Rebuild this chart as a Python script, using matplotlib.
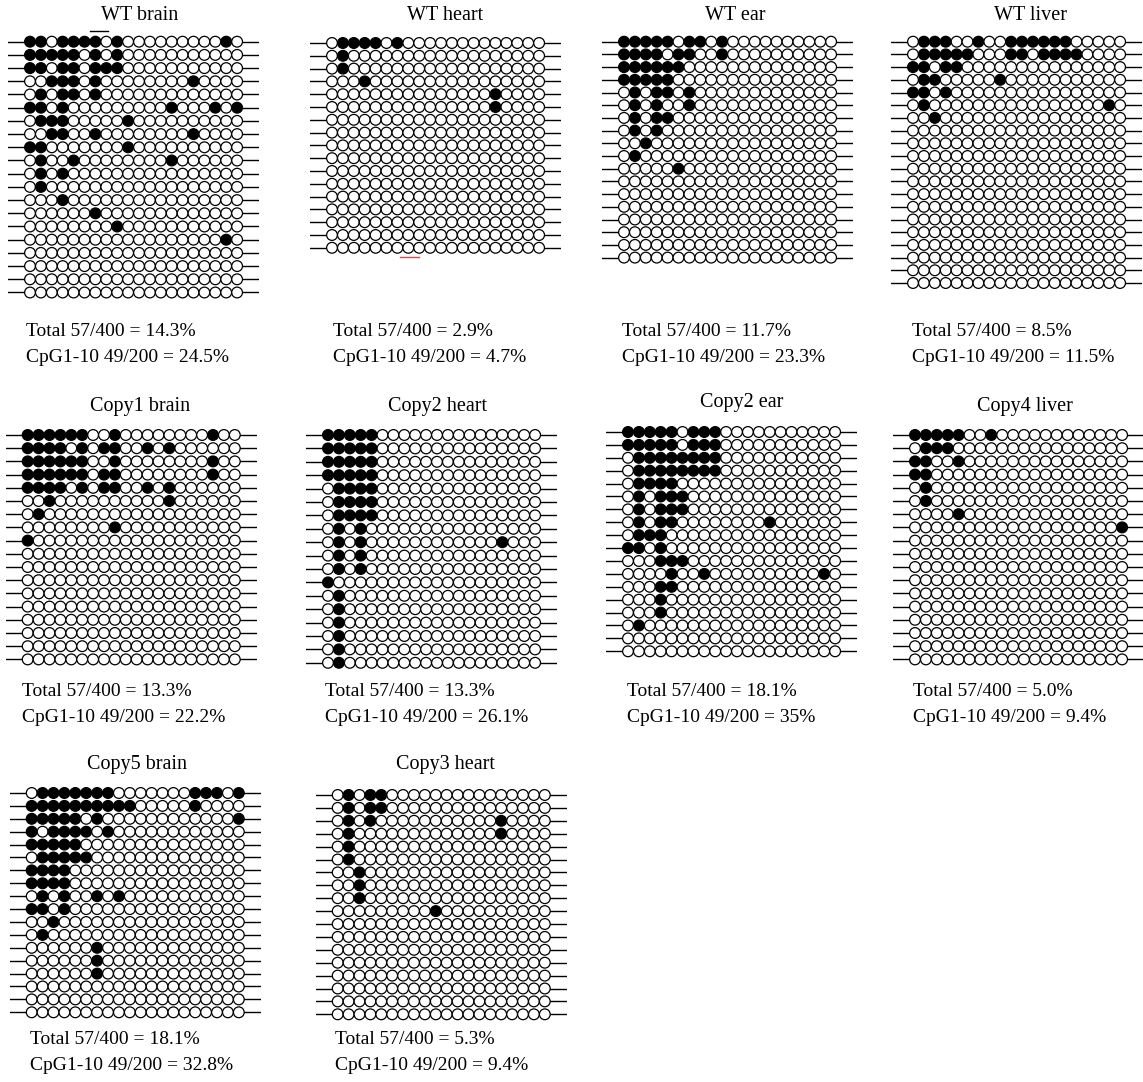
import matplotlib.pyplot as plt

W, H = 1143, 1082
N_SITES = 20

# methylated CpG sites (1-based) of each sequenced clone, top clone first
wt_brain = [[1, 2, 4, 5, 6, 7, 9, 19], [1, 2, 3, 4, 5, 7, 9], [1, 2, 4, 5, 7, 8, 9],
            [3, 4, 5, 7, 16], [2, 4, 5, 7], [1, 2, 4, 14, 18, 20], [2, 3, 4, 10],
            [3, 4, 7, 16], [1, 2, 10], [2, 5, 14], [2, 4], [2], [4], [7], [9], [19],
            [], [], [], []]
wt_heart = [[2, 3, 4, 5, 7], [2], [2], [4], [16], [16]] + [[]] * 11
wt_ear = [[1, 2, 3, 4, 5, 7, 8, 10], [1, 2, 3, 4, 6, 7, 10], [1, 2, 3, 4, 5, 6],
          [1, 2, 3, 4, 5], [2, 4, 5, 7], [2, 4, 7], [2, 4, 5], [2, 4], [3], [2], [6]] + [[]] * 7
wt_liver = [[2, 3, 4, 7, 10, 11, 12, 13, 14, 15], [2, 3, 4, 5, 6, 10, 11, 13, 14, 15, 16],
            [1, 2, 4, 5], [2, 3, 9], [1, 2, 4], [2, 19], [3]] + [[]] * 13
copy1_brain = [[1, 2, 3, 4, 5, 6, 9, 18], [1, 2, 3, 4, 6, 8, 9, 12, 14],
               [1, 2, 3, 4, 5, 6, 9, 18], [1, 2, 3, 4, 5, 6, 8, 9, 18],
               [1, 2, 3, 4, 6, 8, 9, 12, 14], [3, 14], [2], [9], [1]] + [[]] * 9
copy2_heart = ([[1, 2, 3, 4, 5]] * 4 + [[2, 3, 4, 5]] * 3
               + [[2, 4], [2, 4, 17], [2, 4], [2, 4], [1]] + [[2]] * 6)
copy2_ear = [[1, 2, 3, 4, 5, 7, 8, 9], [1, 2, 3, 4, 5, 7, 8, 9], [2, 3, 4, 5, 6, 7, 8, 9],
             [2, 3, 4, 5, 6, 7, 8, 9], [2, 3, 4, 5], [2, 4, 5, 6], [2, 4, 5, 6], [2, 4, 5, 14],
             [2, 3, 4], [1, 2, 4], [4, 5, 6], [5, 8, 19], [4, 5], [4], [4], [2], [], []]
copy4_liver = [[1, 2, 3, 4, 5, 8], [2, 3, 4], [1, 2, 5], [1, 2], [2], [2], [5], [20]] + [[]] * 10
copy5_brain = [[2, 3, 4, 5, 6, 7, 8, 16, 17, 18, 20], [1, 2, 3, 4, 5, 6, 7, 8, 9, 10, 16],
               [1, 2, 3, 4, 5, 7, 20], [1, 3, 4, 5, 6, 8], [1, 2, 3, 4, 5], [2, 3, 4, 5, 6],
               [1, 2, 3, 4], [1, 2, 3, 4], [2, 4, 7, 9], [1, 2, 4], [3], [2], [7], [7], [7],
               [], [], []]
copy3_heart = [[2, 4, 5], [2, 4, 5], [2, 4, 16], [2, 16], [2], [2], [3], [3], [3], [10]] + [[]] * 8

titles = ["WT brain", "WT heart", "WT ear", "WT liver",
          "Copy1 brain", "Copy2 heart", "Copy2 ear", "Copy4 liver",
          "Copy5 brain", "Copy3 heart"]
clones = [wt_brain, wt_heart, wt_ear, wt_liver,
          copy1_brain, copy2_heart, copy2_ear, copy4_liver,
          copy5_brain, copy3_heart]
total_pct = ["14.3%", "2.9%", "11.7%", "8.5%", "13.3%", "13.3%", "18.1%", "5.0%", "18.1%", "5.3%"]
cpg_pct = ["24.5%", "4.7%", "23.3%", "11.5%", "22.2%", "26.1%", "35%", "9.4%", "32.8%", "9.4%"]

# panel placement in pixels: first site x, first clone y, row pitch,
# title centre, stats text origin
layout = [
    dict(x0=30, y0=41.7, dy=13.2, tx=140, ty=15, sx=26, sy=332),
    dict(x0=332, y0=43, dy=12.8, tx=445, ty=15, sx=333, sy=332),
    dict(x0=624, y0=41.7, dy=12.7, tx=735, ty=15, sx=622, sy=332),
    dict(x0=913, y0=41.7, dy=12.7, tx=1030, ty=15, sx=912, sy=332),
    dict(x0=27.7, y0=435, dy=13.2, tx=140, ty=406, sx=22, sy=692),
    dict(x0=328, y0=435, dy=13.4, tx=438, ty=406, sx=325, sy=692),
    dict(x0=628, y0=432, dy=12.9, tx=742, ty=402, sx=627, sy=692),
    dict(x0=915, y0=435, dy=13.2, tx=1025, ty=406, sx=913, sy=692),
    dict(x0=31.7, y0=793, dy=12.9, tx=137, ty=765, sx=30, sy=1040),
    dict(x0=337.7, y0=795, dy=12.9, tx=445, ty=765, sx=335, sy=1040),
]
DX = 10.9
FONT = "Liberation Serif"
FS = 14
FS_TITLE = 14.5

fig = plt.figure(figsize=(W / 100, H / 100), dpi=100)


def draw_panel(rows, x0, y0, dy):
    n = len(rows)
    left = x0 - 2 * DX
    top = y0 - 0.5 * dy
    ax = fig.add_axes([left / W, 1 - (top + n * dy) / H, 23 * DX / W, n * dy / H])
    ax.set_xlim(-1, 22)
    ax.set_ylim(n + 0.5, 0.5)
    ax.axis("off")
    sites = list(range(1, N_SITES + 1))
    for i, meth in enumerate(rows, start=1):
        ax.plot([-1, 22], [i, i], color="black", lw=1.0, zorder=1)
        colors = ["black" if s in meth else "white" for s in sites]
        ax.scatter(sites, [i] * N_SITES, s=60, c=colors, edgecolors="black",
                   linewidths=0.9, zorder=2)
    return ax


for title, rows, tot, cpg, lay in zip(titles, clones, total_pct, cpg_pct, layout):
    draw_panel(rows, lay["x0"], lay["y0"], lay["dy"])
    fig.text(lay["tx"] / W, 1 - lay["ty"] / H, title, ha="center", va="center",
             family=FONT, fontsize=FS_TITLE)
    fig.text(lay["sx"] / W, 1 - lay["sy"] / H, "Total 57/400 = " + tot,
             ha="left", va="center", family=FONT, fontsize=FS)
    fig.text(lay["sx"] / W, 1 - (lay["sy"] + 25) / H, "CpG1-10 49/200 = " + cpg,
             ha="left", va="center", family=FONT, fontsize=FS)

# small stray strokes
fig.add_artist(plt.Line2D([90 / W, 108 / W], [1 - 31 / H, 1 - 31 / H], color="black", lw=1.0))
fig.add_artist(plt.Line2D([400 / W, 419 / W], [1 - 257 / H, 1 - 257 / H], color="#e0494f", lw=1.0))

fig.savefig("out.png", dpi=100, facecolor="white")
